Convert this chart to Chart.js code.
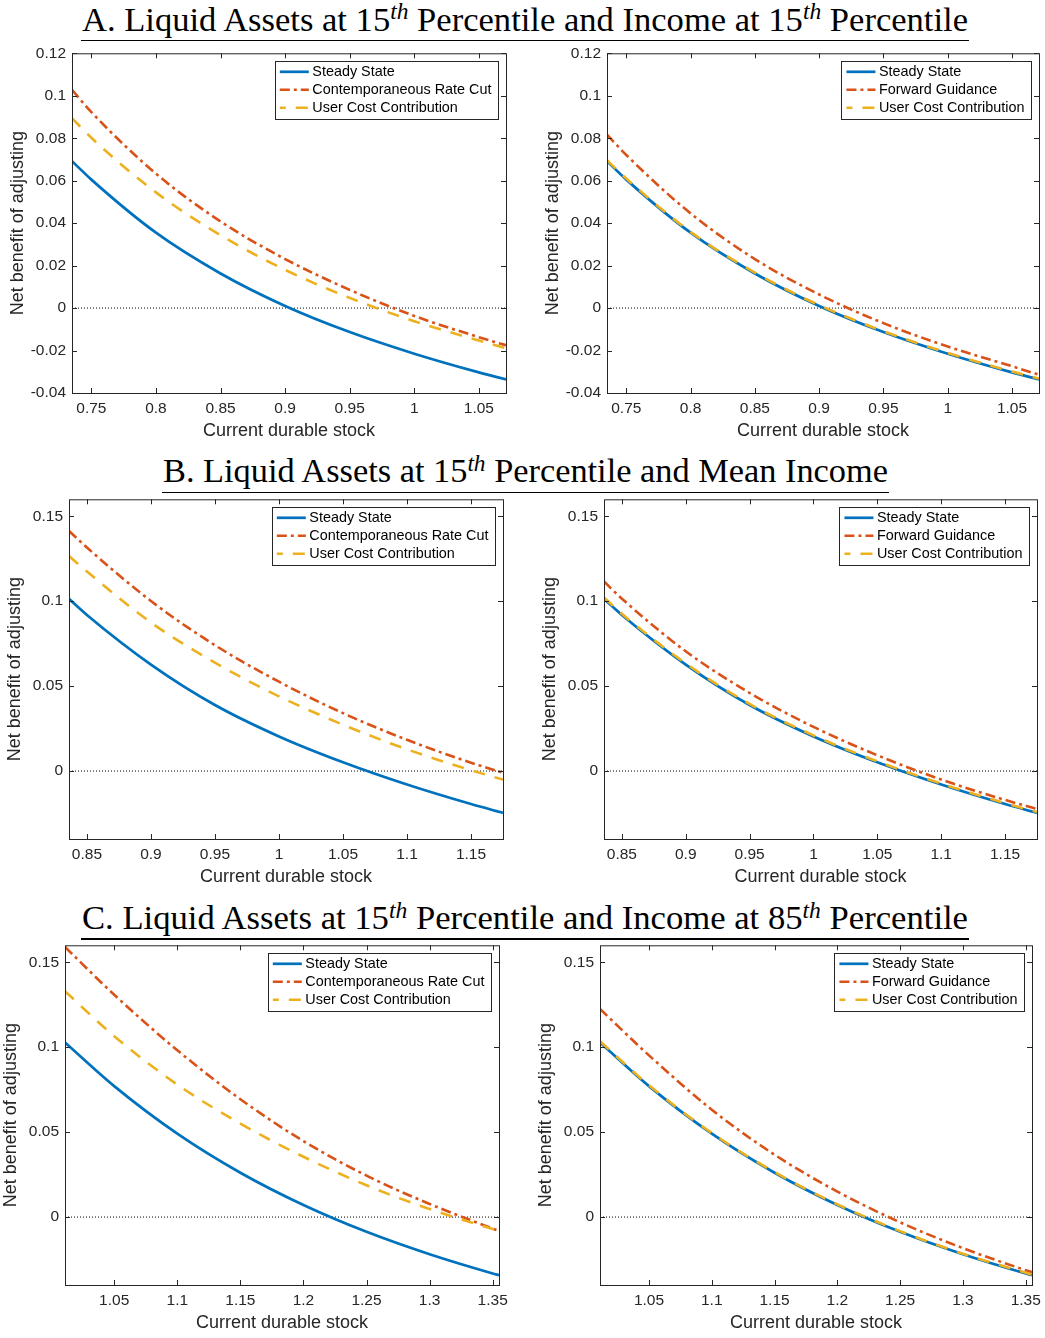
<!DOCTYPE html>
<html>
<head>
<meta charset="utf-8">
<script src="https://cdn.jsdelivr.net/npm/chart.js@4.4.0/dist/chart.umd.min.js"></script>
<style>
  body { margin: 0; background: #fff; width: 1045px; height: 1338px; position: relative; overflow: hidden; }
  .ttl { position: absolute; font-family: 'Liberation Serif', 'Times New Roman', serif; font-size: 33px; line-height: 33px;
         color: #000; white-space: nowrap; transform-origin: 0 0; }
  .ttl i { font-size: 0.68em; position: relative; top: -0.5em; }
  .rule { position: absolute; height: 1.3px; background: #000; }
  canvas { position: absolute; }
</style>
</head>
<body>
<script>
const sansFont = "'Liberation Sans', Arial, sans-serif";

// ---- panel A: liquid assets p15, income p15
const xA = [0.735, 0.75, 0.8, 0.85, 0.9, 0.95, 1.0, 1.05, 1.071];
const steadyA = [0.0692, 0.0605, 0.0355, 0.0163, 0.0010, -0.0113, -0.0215, -0.0303, -0.0336];
const rateCutA = [0.1028, 0.0923, 0.0633, 0.0408, 0.0231, 0.0086, -0.0037, -0.0137, -0.0175];
const userCostRcA = [0.0895, 0.0802, 0.0545, 0.0343, 0.0180, 0.0048, -0.0062, -0.0153, -0.0189];
const guidanceA = [0.0817, 0.0721, 0.0446, 0.0231, 0.0064, -0.0071, -0.0181, -0.0274, -0.0314];
const userCostFgA = [0.0697, 0.0610, 0.0359, 0.0167, 0.0014, -0.0109, -0.0211, -0.0299, -0.0332];

// ---- panel B: liquid assets p15, mean income
const xB = [0.836, 0.85, 0.9, 0.95, 1.0, 1.05, 1.1, 1.15, 1.175];
const steadyB = [0.1014, 0.0919, 0.0627, 0.0389, 0.0204, 0.0052, -0.0079, -0.0194, -0.0246];
const rateCutB = [0.1414, 0.1316, 0.1001, 0.0741, 0.0526, 0.0341, 0.0184, 0.0049, -0.0010];
const userCostRcB = [0.1266, 0.1175, 0.0875, 0.0638, 0.0440, 0.0273, 0.0128, 0.0005, -0.0050];
const guidanceB = [0.1116, 0.1015, 0.0705, 0.0460, 0.0260, 0.0093, -0.0050, -0.0170, -0.0223];
const userCostFgB = [0.1022, 0.0926, 0.0634, 0.0395, 0.0210, 0.0057, -0.0074, -0.0189, -0.0241];

// ---- panel C: liquid assets p15, income p85
const xC = [1.011, 1.05, 1.1, 1.15, 1.2, 1.25, 1.3, 1.35, 1.355];
const steadyC = [0.1028, 0.0771, 0.0491, 0.0261, 0.0071, -0.0087, -0.0219, -0.0332, -0.0342];
const rateCutC = [0.1590, 0.1309, 0.0982, 0.0694, 0.0447, 0.0244, 0.0077, -0.0068, -0.0082];
const userCostRcC = [0.1330, 0.1065, 0.0780, 0.0550, 0.0355, 0.0187, 0.0047, -0.0070, -0.0081];
const guidanceC = [0.1225, 0.0952, 0.0632, 0.0367, 0.0150, -0.0031, -0.0183, -0.0313, -0.0325];
const userCostFgC = [0.1035, 0.0776, 0.0495, 0.0265, 0.0075, -0.0083, -0.0216, -0.0328, -0.0339];

// ticks
const xTicksA = [0.75, 0.8, 0.85, 0.9, 0.95, 1, 1.05];
const xTicksB = [0.85, 0.9, 0.95, 1, 1.05, 1.1, 1.15];
const xTicksC = [1.05, 1.1, 1.15, 1.2, 1.25, 1.3, 1.35];
const yTicksA = [-0.04, -0.02, 0, 0.02, 0.04, 0.06, 0.08, 0.1, 0.12];
const yTicksBC = [0, 0.05, 0.1, 0.15];

const labelsRateCut = ['Steady State', 'Contemporaneous Rate Cut', 'User Cost Contribution'];
const labelsGuidance = ['Steady State', 'Forward Guidance', 'User Cost Contribution'];
const xTitle = 'Current durable stock';
const yTitle = 'Net benefit of adjusting';

const titles = [
  {parts: ['A. Liquid Assets at 15', 'th', ' Percentile and Income at 15', 'th', ' Percentile'], left: 82, width: 886, base: 30.7, rule: 40},
  {parts: ['B. Liquid Assets at 15', 'th', ' Percentile and Mean Income'], left: 163, width: 725, base: 482.3, rule: 492},
  {parts: ['C. Liquid Assets at 15', 'th', ' Percentile and Income at 85', 'th', ' Percentile'], left: 82, width: 886, base: 929, rule: 938.3},
];

const colors = {blue: '#0072BD', red: '#D95319', yellow: '#EDB120'};

function addTitle(t) {
  const d = document.createElement('div');
  d.className = 'ttl';
  t.parts.forEach((p, i) => {
    if (i % 2 === 1) { const s = document.createElement('i'); s.textContent = p; d.appendChild(s); }
    else d.appendChild(document.createTextNode(p));
  });
  const mark = document.createElement('span');
  mark.style.cssText = 'display:inline-block;width:0;height:0;vertical-align:baseline';
  d.appendChild(mark);
  d.style.left = t.left + 'px';
  d.style.top = '0px';
  document.body.appendChild(d);
  const w = d.getBoundingClientRect().width;
  const baseOff = mark.getBoundingClientRect().bottom - d.getBoundingClientRect().top;
  d.style.top = (t.base - baseOff) + 'px';
  d.style.transform = 'scaleX(' + (t.width / w) + ')';
  const r = document.createElement('div');
  r.className = 'rule';
  r.style.left = (t.left - 1) + 'px';
  r.style.width = (t.width + 1.5) + 'px';
  r.style.top = t.rule + 'px';
  document.body.appendChild(r);
}
titles.forEach(addTitle);

function fmt(v) { return String(+v.toFixed(3)); }

const frameAndLegend = {
  id: 'frameAndLegend',
  afterDraw(chart) {
    const {ctx, chartArea: a, scales: {x, y}} = chart;
    ctx.save();
    ctx.strokeStyle = '#262626';
    ctx.lineWidth = 1;
    ctx.setLineDash([]);
    ctx.beginPath();
    x.ticks.forEach(t => {
      const px = Math.round(x.getPixelForValue(t.value)) + 0.5;
      ctx.moveTo(px, a.bottom); ctx.lineTo(px, a.bottom - 5);
      ctx.moveTo(px, a.top); ctx.lineTo(px, a.top + 5);
    });
    y.ticks.forEach(t => {
      const py = Math.round(y.getPixelForValue(t.value)) + 0.5;
      ctx.moveTo(a.left, py); ctx.lineTo(a.left + 5, py);
      ctx.moveTo(a.right, py); ctx.lineTo(a.right - 5, py);
    });
    ctx.stroke();
    ctx.strokeRect(a.left + 0.5, a.top + 0.5, a.right - a.left, a.bottom - a.top);

    // legend box, top right inside the axes
    const items = chart.data.datasets.filter(d => d.label);
    ctx.font = '14.4px ' + sansFont;
    const tw = Math.max(...items.map(d => ctx.measureText(d.label).width));
    const bw = 37.5 + tw + 6.5, bh = 57.5;
    const bx = a.right - 8 - bw, by = a.top + 7.5;
    ctx.fillStyle = '#fff';
    ctx.fillRect(bx, by, bw, bh);
    ctx.strokeStyle = '#262626';
    ctx.strokeRect(Math.round(bx) + 0.5, Math.round(by) + 0.5, Math.round(bw), Math.round(bh));
    items.forEach((d, i) => {
      const ry = by + 11 + i * 18;
      ctx.save();
      ctx.strokeStyle = d.borderColor;
      ctx.lineWidth = d.borderWidth;
      ctx.setLineDash(d.borderDash || []);
      ctx.lineDashOffset = d.legendDashOffset || 0;
      ctx.beginPath();
      ctx.moveTo(bx + 5, ry); ctx.lineTo(bx + 34, ry);
      ctx.stroke();
      ctx.restore();
      ctx.fillStyle = '#000';
      ctx.textBaseline = 'middle';
      ctx.textAlign = 'left';
      ctx.fillText(d.label, bx + 37.5, ry + 0.5);
    });
    ctx.restore();
  }
};

const padL = 75, padT = 14, padR = 22, padB = 55;

function makePanel(p) {
  const cv = document.createElement('canvas');
  cv.width = p.right - p.left + padL + padR;
  cv.height = p.bottom - p.top + padT + padB;
  cv.style.left = (p.left - padL) + 'px';
  cv.style.top = (p.top - padT) + 'px';
  document.body.appendChild(cv);

  const pts = ys => p.x.map((v, i) => ({x: v, y: ys[i]}));
  const xMin = p.x[0], xMax = p.x[p.x.length - 1];

  new Chart(cv, {
    type: 'line',
    data: {
      datasets: [
        {label: p.labels[0], data: pts(p.series[0]), borderColor: colors.blue, borderWidth: 2.7, order: 3},
        {label: p.labels[1], data: pts(p.series[1]), borderColor: colors.red, borderWidth: 2.6,
         borderDash: [10, 4, 3, 4], order: 2},
        {label: p.labels[2], data: pts(p.series[2]), borderColor: colors.yellow, borderWidth: 2.6,
         borderDash: [12, 10], legendDashOffset: 6, order: 1},
        {data: [{x: xMin, y: 0}, {x: xMax, y: 0}], borderColor: '#000', borderWidth: 1,
         borderDash: [1, 2], order: 4}
      ]
    },
    options: {
      responsive: false,
      animation: false,
      events: [],
      layout: {padding: {left: 0, top: padT, right: padR, bottom: 0}},
      elements: {point: {radius: 0}, line: {cubicInterpolationMode: 'monotone', fill: false}},
      plugins: {legend: {display: false}, tooltip: {enabled: false}},
      scales: {
        x: {
          type: 'linear', position: 'bottom', min: xMin, max: xMax,
          afterBuildTicks: s => { s.ticks = p.xTicks.map(v => ({value: v})); },
          afterFit: s => { s.height = padB; },
          grid: {display: false, drawTicks: false},
          border: {display: false},
          ticks: {font: {family: sansFont, size: 15.5}, color: '#262626', padding: 6, maxRotation: 0,
                  autoSkip: false, callback: v => fmt(v)},
          title: {display: true, text: xTitle, color: '#262626', font: {family: sansFont, size: 18},
                  padding: {top: 0, bottom: 6}}
        },
        y: {
          type: 'linear', position: 'left', min: p.yMin, max: p.yMax,
          afterBuildTicks: s => { s.ticks = p.yTicks.map(v => ({value: v})); },
          afterFit: s => { s.width = padL; },
          grid: {display: false, drawTicks: false},
          border: {display: false},
          ticks: {font: {family: sansFont, size: 15.5}, color: '#262626', padding: 6,
                  autoSkip: false, callback: v => fmt(v)},
          title: {display: true, text: yTitle, color: '#262626', font: {family: sansFont, size: 18},
                  padding: {top: 10, bottom: 0}}
        }
      }
    },
    plugins: [frameAndLegend]
  });
}

const panels = [
  {left: 72, top: 52, right: 506, bottom: 393, x: xA, xTicks: xTicksA, yMin: -0.04, yMax: 0.12, yTicks: yTicksA,
   series: [steadyA, rateCutA, userCostRcA], labels: labelsRateCut},
  {left: 607, top: 52, right: 1039, bottom: 393, x: xA, xTicks: xTicksA, yMin: -0.04, yMax: 0.12, yTicks: yTicksA,
   series: [steadyA, guidanceA, userCostFgA], labels: labelsGuidance},
  {left: 69, top: 498, right: 503, bottom: 839, x: xB, xTicks: xTicksB, yMin: -0.04, yMax: 0.16, yTicks: yTicksBC,
   series: [steadyB, rateCutB, userCostRcB], labels: labelsRateCut},
  {left: 604, top: 498, right: 1037, bottom: 839, x: xB, xTicks: xTicksB, yMin: -0.04, yMax: 0.16, yTicks: yTicksBC,
   series: [steadyB, guidanceB, userCostFgB], labels: labelsGuidance},
  {left: 65, top: 944, right: 499, bottom: 1285, x: xC, xTicks: xTicksC, yMin: -0.04, yMax: 0.16, yTicks: yTicksBC,
   series: [steadyC, rateCutC, userCostRcC], labels: labelsRateCut},
  {left: 600, top: 944, right: 1032, bottom: 1285, x: xC, xTicks: xTicksC, yMin: -0.04, yMax: 0.16, yTicks: yTicksBC,
   series: [steadyC, guidanceC, userCostFgC], labels: labelsGuidance},
];
panels.forEach(makePanel);
</script>
</body>
</html>
